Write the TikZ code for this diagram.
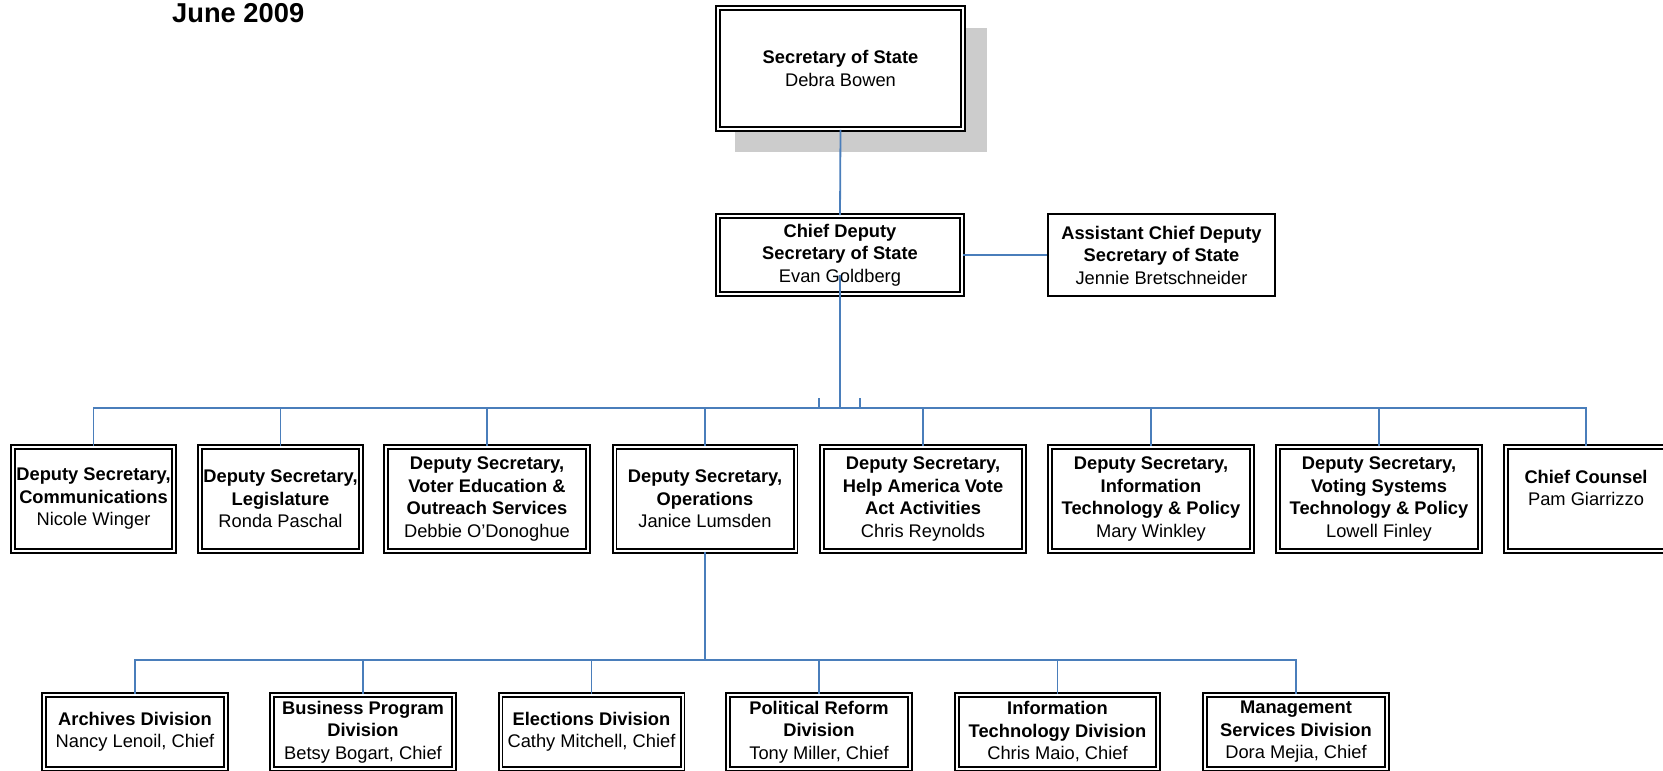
\documentclass[tikz,border=0pt]{standalone}
\usepackage{fontspec}
\setmainfont{Liberation Sans}
\usepackage{xcolor}
\usepackage{tikz}
\usetikzlibrary{shadows}
\definecolor{linkblue}{RGB}{74,126,187}
\definecolor{shadegray}{RGB}{204,204,204}

\begin{document}
\begin{tikzpicture}[x=1pt,y=1pt]
\tikzstyle{every node}+=[inner sep=0pt, align=center, font=\fontsize{18.3}{22.5}\selectfont]
\tikzstyle{post}=[draw=black, fill=white, line width=1.8pt, double=white, double distance=2pt]
\tikzstyle{plain post}=[draw=black, fill=white, line width=2.2pt]
\tikzstyle{deputy}=[post, minimum width=202pt, minimum height=104pt]
\tikzstyle{division}=[post, minimum width=182pt, minimum height=74pt]
\tikzstyle{link}=[draw=linkblue, line width=1.8pt]
\useasboundingbox (0,0) rectangle (1663,-771);
\clip (0,0) rectangle (1663,-771);
\node [anchor=base west, font=\fontsize{27.3}{32}\selectfont\bfseries] (date) at (172,-22) {June 2009};
\node [post, minimum width=245pt, minimum height=121pt, drop shadow={shadow xshift=20pt, shadow yshift=-21pt, shadow scale=1.03, fill=shadegray, opacity=1}] (sec) at (840.5,-68.5) {\textbf{Secretary of State}\\Debra Bowen};
\node [post, minimum width=244pt, minimum height=78pt] (chief) at (840,-255) {\textbf{Chief Deputy}\\\textbf{Secretary of State}\\Evan Goldberg};
\node [plain post, minimum width=227pt, minimum height=82pt] (asst) at (1161.5,-255) {\textbf{Assistant Chief Deputy}\\\textbf{Secretary of State}\\Jennie Bretschneider};
\node [deputy, minimum width=161pt] (comm) at (93.5,-499) {\textbf{Deputy Secretary,}\\\textbf{Communications}\\Nicole Winger};
\node [deputy, minimum width=161pt] (legis) at (280.5,-499) {\textbf{Deputy Secretary,}\\\textbf{Legislature}\\Ronda Paschal};
\node [deputy] (voter) at (487,-499) {\textbf{Deputy Secretary,}\\\textbf{Voter Education \&}\\\textbf{Outreach Services}\\Debbie O'Donoghue};
\node [deputy, minimum width=181pt] (ops) at (705,-499) {\textbf{Deputy Secretary,}\\\textbf{Operations}\\Janice Lumsden};
\node [deputy] (hava) at (923,-499) {\textbf{Deputy Secretary,}\\\textbf{Help America Vote}\\\textbf{Act Activities}\\Chris Reynolds};
\node [deputy] (itp) at (1151,-499) {\textbf{Deputy Secretary,}\\\textbf{Information}\\\textbf{Technology \& Policy}\\Mary Winkley};
\node [deputy] (vstp) at (1379,-499) {\textbf{Deputy Secretary,}\\\textbf{Voting Systems}\\\textbf{Technology \& Policy}\\Lowell Finley};
\node [deputy, minimum width=160pt] (counsel) at (1586,-499) {\textbf{Chief Counsel}\\Pam Giarrizzo\\~};
\node [division] (arch) at (135,-732) {\textbf{Archives Division}\\Nancy Lenoil, Chief};
\node [division] (bpd) at (363,-732) {\textbf{Business Program}\\\textbf{Division}\\Betsy Bogart, Chief};
\node [division] (elec) at (591.5,-732) {\textbf{Elections Division}\\Cathy Mitchell, Chief};
\node [division] (prd) at (819,-732) {\textbf{Political Reform}\\\textbf{Division}\\Tony Miller, Chief};
\node [division, minimum width=201pt] (itd) at (1057.5,-732) {\textbf{Information}\\\textbf{Technology Division}\\Chris Maio, Chief};
\node [division] (msd) at (1296,-732) {\textbf{Management}\\\textbf{Services Division}\\Dora Mejia, Chief};
\coordinate (tap) at (840,-275);
\coordinate (bus) at (840,-408);
\coordinate (stubA) at (819,-398);
\coordinate (stubB) at (860,-398);
\coordinate (drop) at (705,-660);
\draw [link] (sec.south) -- (chief.north);
\draw [link] (chief.east) -- (asst.west);
\draw [link] (tap) -- (bus);
\draw [link] (stubA) -- (stubA |- bus);
\draw [link] (stubB) -- (stubB |- bus);
\draw [link] (bus) -| (comm.north);
\draw [link] (bus) -| (legis.north);
\draw [link] (bus) -| (voter.north);
\draw [link] (bus) -| (ops.north);
\draw [link] (bus) -| (hava.north);
\draw [link] (bus) -| (itp.north);
\draw [link] (bus) -| (vstp.north);
\draw [link] (bus) -| (counsel.north);
\draw [link] (ops.south) -- (drop);
\draw [link] (drop) -| (arch.north);
\draw [link] (drop) -| (bpd.north);
\draw [link] (drop) -| (elec.north);
\draw [link] (drop) -| (prd.north);
\draw [link] (drop) -| (itd.north);
\draw [link] (drop) -| (msd.north);
\end{tikzpicture}
\end{document}
